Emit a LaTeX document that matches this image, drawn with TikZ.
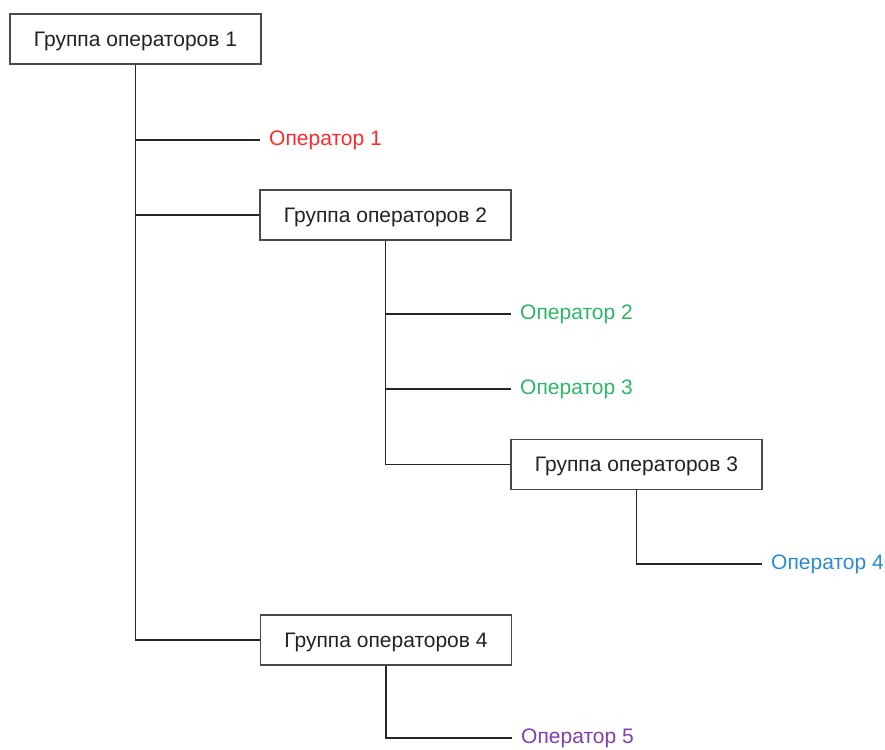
\documentclass[tikz,border=0pt]{standalone}
\usepackage{fontspec}
\setmainfont{Liberation Sans}
\definecolor{opred}{HTML}{FF2A2A}
\definecolor{opgreen}{HTML}{2DB665}
\definecolor{opblue}{HTML}{2A8AD2}
\definecolor{oppurple}{HTML}{7F3FB0}
\definecolor{boxline}{HTML}{4A4A4A}
\definecolor{txt}{HTML}{222222}
\begin{document}
\begin{tikzpicture}[x={(1pt,0)},y={(0,-1pt)},
  grp/.style={draw=boxline, line width=1.2pt, minimum width=251pt, minimum height=50pt,
    inner sep=0pt, text depth=0pt, font=\fontsize{21}{25}\selectfont, text=txt},
  oplbl/.style={anchor=west, inner ysep=0pt, inner xsep=9pt, font=\fontsize{21}{25}\selectfont},
  conn/.style={draw=black!85, line width=1.2pt}]
\useasboundingbox (0,0) rectangle (885,749);
\node[grp] (g1) at (135.5,39) {Группа операторов 1};
\node[grp] (g2) at (385.5,215) {Группа операторов 2};
\node[grp] (g3) at (636.5,464.5) {Группа операторов 3};
\node[grp] (g4) at (386,640) {Группа операторов 4};
\node[oplbl, text=opred] (o1) at (260,140) {Оператор 1};
\node[oplbl, text=opgreen] (o2) at (511,314) {Оператор 2};
\node[oplbl, text=opgreen] (o3) at (511,389) {Оператор 3};
\node[oplbl, text=opblue] (o4) at (762,564) {Оператор 4};
\node[oplbl, text=oppurple] (o5) at (512,738) {Оператор 5};
\draw[conn] (g1.south) -- (g1.south |- g4.west) -- (g4.west);
\draw[conn] (g1.south |- o1.west) -- (o1.west);
\draw[conn] (g1.south |- g2.west) -- (g2.west);
\draw[conn] (g2.south) -- (g2.south |- g3.west) -- (g3.west);
\draw[conn] (g2.south |- o2.west) -- (o2.west);
\draw[conn] (g2.south |- o3.west) -- (o3.west);
\draw[conn] (g3.south) -- (g3.south |- o4.west) -- (o4.west);
\draw[conn] (g4.south) -- (g4.south |- o5.west) -- (o5.west);
\end{tikzpicture}
\end{document}
